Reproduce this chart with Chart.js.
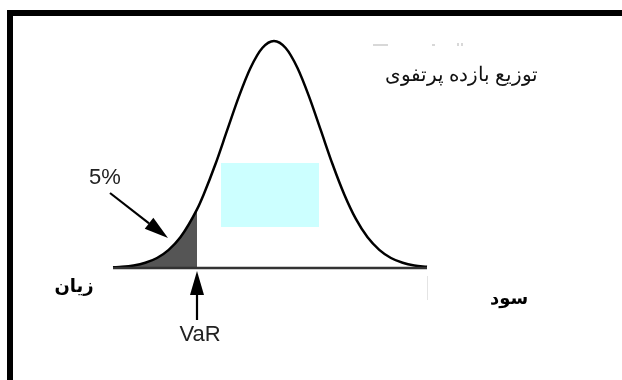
<!DOCTYPE html>
<html>
<head>
<meta charset="utf-8">
<script src="https://cdn.jsdelivr.net/npm/chart.js@4.4.0/dist/chart.umd.min.js"></script>
<style>
  html, body { margin: 0; padding: 0; background: #fff; }
  #wrap { width: 622px; height: 380px; position: relative; }
</style>
</head>
<body>
<div id="wrap"><canvas id="chart"></canvas></div>
<script>
// portfolio return (sigma units) and relative density
const returns = [-3.44, -3.25, -3.0, -2.75, -2.5, -2.25, -2.0, -1.645, -1.5, -1.25, -1.0, -0.75, -0.5, -0.25, 0,
                 0.25, 0.5, 0.75, 1.0, 1.25, 1.5, 1.75, 2.0, 2.25, 2.5, 2.75, 3.0, 3.27];
const density = [0.003, 0.005, 0.011, 0.023, 0.044, 0.08, 0.135, 0.258, 0.325, 0.458, 0.607, 0.755, 0.882, 0.969, 1,
                 0.969, 0.882, 0.755, 0.607, 0.458, 0.325, 0.216, 0.135, 0.08, 0.044, 0.023, 0.011, 0.005];
const varLevel = -1.645;
const tailLabel = '5%';
const titleText = 'توزیع بازده پرتفوی';
const lossLabel = 'زیان';
const profitLabel = 'سود';

const curvePoints = returns.map((r, i) => ({ x: r, y: density[i] }));
const tailPoints = curvePoints.filter(p => p.x <= varLevel);
const basePoints = [{ x: returns[0], y: 0 }, { x: returns[returns.length - 1], y: 0 }];

// draw an arrow with a filled head at (x2, y2)
function arrow(ctx, x1, y1, x2, y2) {
  const ang = Math.atan2(y2 - y1, x2 - x1);
  const len = 24, half = 7;
  const bx = x2 - len * Math.cos(ang), by = y2 - len * Math.sin(ang);
  ctx.strokeStyle = '#000';
  ctx.lineWidth = 2.2;
  ctx.beginPath();
  ctx.moveTo(x1, y1);
  ctx.lineTo(bx, by);
  ctx.stroke();
  ctx.fillStyle = '#000';
  ctx.beginPath();
  ctx.moveTo(x2, y2);
  ctx.lineTo(bx + half * Math.sin(ang), by - half * Math.cos(ang));
  ctx.lineTo(bx - half * Math.sin(ang), by + half * Math.cos(ang));
  ctx.closePath();
  ctx.fill();
}

const overlay = {
  id: 'overlay',
  beforeDatasetsDraw(chart) {
    const ctx = chart.ctx;
    ctx.save();
    ctx.fillStyle = '#ccffff';
    ctx.fillRect(221, 163, 98, 64);
    ctx.restore();
  },
  afterDraw(chart) {
    const ctx = chart.ctx;
    const vx = chart.scales.x.getPixelForValue(varLevel);
    const base = chart.scales.y.getPixelForValue(0);
    const right = chart.scales.x.getPixelForValue(returns[returns.length - 1]);
    ctx.save();

    // frame (top and left only)
    ctx.fillStyle = '#000';
    ctx.fillRect(7, 10, 615, 6);
    ctx.fillRect(7, 10, 6, 370);

    // faint leftovers
    ctx.fillStyle = '#d8d8d8';
    ctx.fillRect(373, 44, 15, 2);
    ctx.fillRect(432, 44, 3, 2);
    ctx.fillRect(457, 43, 2, 3);
    ctx.fillRect(461, 43, 2, 3);
    ctx.fillStyle = '#e4e4e4';
    ctx.fillRect(Math.round(right), base + 8, 1, 24);

    ctx.textAlign = 'center';
    ctx.textBaseline = 'middle';

    // title
    ctx.fillStyle = '#111';
    ctx.font = '20px "Liberation Serif", "DejaVu Serif", serif';
    ctx.fillText(titleText, 461, 76);

    // 5% tail arrow
    arrow(ctx, 110, 193, 168, 238);
    ctx.fillStyle = '#222';
    ctx.font = '22px "Liberation Sans", Arial, sans-serif';
    ctx.fillText(tailLabel, 105, 178);

    // VaR arrow
    arrow(ctx, vx, 320, vx, base + 3);
    ctx.fillStyle = '#222';
    ctx.fillText('VaR', vx + 3, 335);

    // loss / profit
    ctx.fillStyle = '#000';
    ctx.font = 'bold 18px "DejaVu Sans", sans-serif';
    ctx.fillText(lossLabel, 74, 287);
    ctx.fillText(profitLabel, 509, 299);

    ctx.restore();
  }
};

new Chart(document.getElementById('chart'), {
  type: 'line',
  data: {
    datasets: [
      {
        data: basePoints,
        borderColor: '#333',
        borderWidth: 2.5,
        pointRadius: 0,
        fill: false,
        clip: false
      },
      {
        data: curvePoints,
        borderColor: '#000',
        borderWidth: 2.5,
        pointRadius: 0,
        cubicInterpolationMode: 'monotone',
        fill: false,
        clip: false
      },
      {
        data: tailPoints,
        borderWidth: 0,
        borderColor: 'rgba(0,0,0,0)',
        backgroundColor: '#555555',
        pointRadius: 0,
        cubicInterpolationMode: 'monotone',
        fill: 'origin',
        clip: false
      }
    ]
  },
  options: {
    responsive: true,
    maintainAspectRatio: false,
    animation: false,
    layout: {
      padding: { left: 113, right: 195, top: 41, bottom: 112 }
    },
    plugins: {
      legend: { display: false },
      tooltip: { enabled: false }
    },
    scales: {
      x: { type: 'linear', min: returns[0], max: returns[returns.length - 1], display: false },
      y: { min: 0, max: 1, display: false }
    }
  },
  plugins: [overlay]
});
</script>
</body>
</html>
